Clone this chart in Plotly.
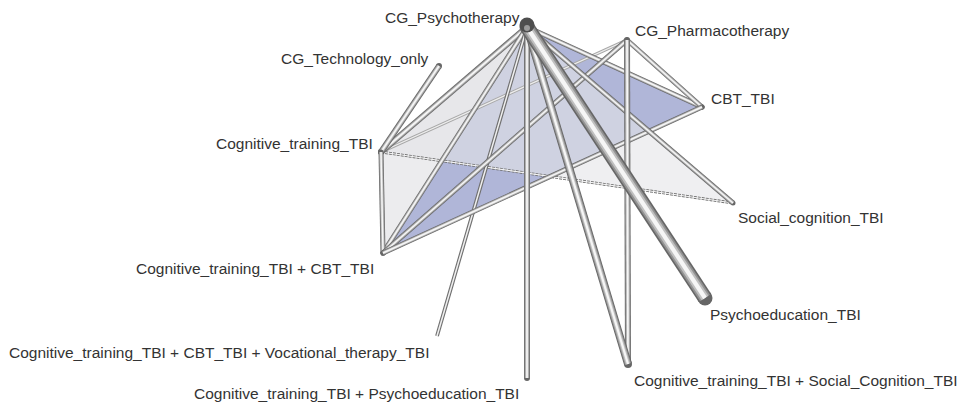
import plotly.graph_objects as go

# ---------------- data ----------------
node_names = [
    "CG_Psychotherapy",
    "CG_Pharmacotherapy",
    "CG_Technology_only",
    "Cognitive_training_TBI",
    "CBT_TBI",
    "Social_cognition_TBI",
    "Cognitive_training_TBI + CBT_TBI",
    "Cognitive_training_TBI + CBT_TBI + Vocational_therapy_TBI",
    "Cognitive_training_TBI + Psychoeducation_TBI",
    "Psychoeducation_TBI",
    "Cognitive_training_TBI + Social_Cognition_TBI",
]
# projected node coordinates of the network layout
node_x = [527, 627, 439, 381, 702, 733, 383, 437, 527, 705, 628]
node_y = [27, 40, 66, 152, 107, 203, 253, 336, 378, 298, 364]

# edges (treatment comparisons) and their thickness (~ number of studies)
edge_from = [
    "CG_Pharmacotherapy", "Cognitive_training_TBI",
    "CG_Psychotherapy", "CG_Psychotherapy", "CG_Psychotherapy",
    "CG_Technology_only", "Cognitive_training_TBI",
    "CG_Psychotherapy", "CG_Pharmacotherapy", "CG_Pharmacotherapy",
    "Cognitive_training_TBI + CBT_TBI", "CG_Psychotherapy",
    "CG_Psychotherapy", "CG_Pharmacotherapy", "CG_Psychotherapy",
    "CG_Psychotherapy",
]
edge_to = [
    "Cognitive_training_TBI", "Social_cognition_TBI",
    "Cognitive_training_TBI", "Cognitive_training_TBI + CBT_TBI",
    "Cognitive_training_TBI + CBT_TBI + Vocational_therapy_TBI",
    "Cognitive_training_TBI", "Cognitive_training_TBI + CBT_TBI",
    "CBT_TBI", "CBT_TBI", "Cognitive_training_TBI + CBT_TBI",
    "CBT_TBI", "Social_cognition_TBI",
    "Cognitive_training_TBI + Psychoeducation_TBI",
    "Cognitive_training_TBI + Social_Cognition_TBI",
    "Cognitive_training_TBI + Social_Cognition_TBI",
    "Psychoeducation_TBI",
]
edge_n = [1, 1, 3, 2, 1, 3, 2, 2, 2, 2, 2, 2, 3, 3, 4, 8]

# multi-arm study polygons
multi_arm = [
    ["CG_Psychotherapy", "CBT_TBI", "Cognitive_training_TBI + CBT_TBI"],
    ["CG_Psychotherapy", "Cognitive_training_TBI", "Cognitive_training_TBI + CBT_TBI"],
    ["CG_Psychotherapy", "Cognitive_training_TBI", "Social_cognition_TBI"],
]

# ---------------- styles ----------------
W, H = 962, 407
pos = {n: (x, y) for n, x, y in zip(node_names, node_x, node_y)}
poly_fill = ["rgba(176,182,216,1)", "rgba(228,228,232,0.72)", "rgba(228,228,232,0.6)"]
width_of = {1: 2.6, 2: 5.0, 3: 6.0, 4: 8.0, 8: 15.0}
edge_style = {0: "light", 1: "dashed", 4: "striped"}

label_style = {
    "CG_Psychotherapy": (522, 17, "right"),
    "CG_Pharmacotherapy": (633, 30, "left"),
    "CG_Technology_only": (431, 58, "right"),
    "Cognitive_training_TBI": (375, 143, "right"),
    "CBT_TBI": (709, 98, "left"),
    "Social_cognition_TBI": (736, 217, "left"),
    "Cognitive_training_TBI + CBT_TBI": (376, 268, "right"),
    "Cognitive_training_TBI + CBT_TBI + Vocational_therapy_TBI": (431, 352, "right"),
    "Cognitive_training_TBI + Psychoeducation_TBI": (521, 393, "right"),
    "Psychoeducation_TBI": (708, 314, "left"),
    "Cognitive_training_TBI + Social_Cognition_TBI": (632, 380, "left"),
}

fig = go.Figure()

# polygons
for poly, col in zip(multi_arm, poly_fill):
    xs = [pos[n][0] for n in poly] + [pos[poly[0]][0]]
    ys = [pos[n][1] for n in poly] + [pos[poly[0]][1]]
    fig.add_trace(go.Scatter(x=xs, y=ys, mode="lines", fill="toself",
                             fillcolor=col, line=dict(width=0),
                             hoverinfo="skip", showlegend=False))

tube_layers = [(1.0, "#666666"), (0.78, "#929292"), (0.55, "#c0c0c0"), (0.28, "#f6f6f6")]

for i, (a, b, n) in enumerate(zip(edge_from, edge_to, edge_n)):
    xs = [pos[a][0], pos[b][0]]
    ys = [pos[a][1], pos[b][1]]
    w = width_of[n]
    style = edge_style.get(i, "tube")
    if style == "light":
        layers = [(1.0, "#a8a8a8"), (0.4, "#eeeeee")]
        w = 3.2
    elif style == "dashed":
        layers = [(1.0, "#6e6e6e"), (0.4, "#f4f4f4")]
        w = 2.8
    elif style == "striped":
        layers = [(1.0, "#707070"), (0.4, "#f0f0f0")]
        w = 3.8
    else:
        layers = tube_layers
    for k, (f, c) in enumerate(layers):
        dash = "3px,1px" if (style == "dashed" and k == 0) else "solid"
        fig.add_trace(go.Scatter(
            x=xs, y=ys,
            mode="lines+markers" if k == 0 and style == "tube" else "lines",
            line=dict(color=c, width=w * f, dash=dash),
            marker=dict(size=w, color=c, line=dict(width=0)),
            hoverinfo="skip", showlegend=False))

# central node sphere
fig.add_trace(go.Scatter(x=[pos["CG_Psychotherapy"][0]], y=[pos["CG_Psychotherapy"][1] - 2],
                         mode="markers",
                         marker=dict(size=15, color="#4e4e4e", line=dict(width=0)),
                         hoverinfo="skip", showlegend=False))
fig.add_trace(go.Scatter(x=[pos["CG_Psychotherapy"][0]], y=[pos["CG_Psychotherapy"][1] + 1],
                         mode="markers",
                         marker=dict(size=6, color="#9a9a9a", line=dict(width=0)),
                         hoverinfo="skip", showlegend=False))

for name in node_names:
    lx, ly, anc = label_style[name]
    fig.add_annotation(x=lx, y=ly, text=name, showarrow=False,
                       xanchor=anc, yanchor="middle",
                       font=dict(family="Liberation Sans, Arial", size=15.5, color="#333333"))

fig.update_layout(
    width=W, height=H,
    margin=dict(l=0, r=0, t=0, b=0),
    paper_bgcolor="white", plot_bgcolor="white",
    xaxis=dict(range=[0, W], visible=False, fixedrange=True),
    yaxis=dict(range=[H, 0], visible=False, fixedrange=True),
    showlegend=False,
)

fig.write_html("out.html", config={"displayModeBar": False},
               post_script="document.body.style.margin='0';document.body.style.overflow='hidden';")
